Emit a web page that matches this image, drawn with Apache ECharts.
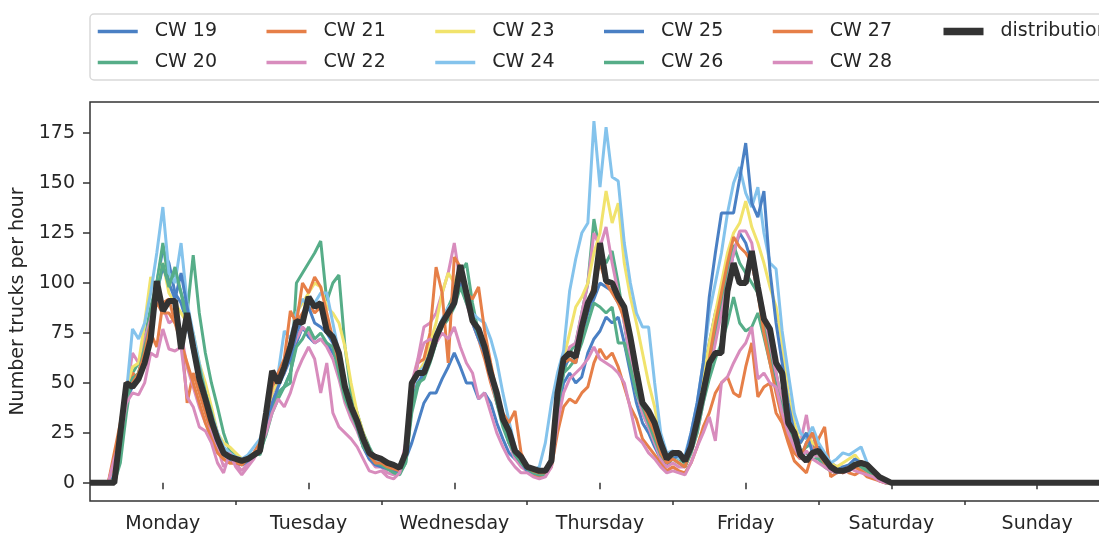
<!DOCTYPE html>
<html><head><meta charset="utf-8">
<script src="https://cdn.jsdelivr.net/npm/echarts@6/dist/echarts.min.js"></script>
<style>html,body{margin:0;padding:0;background:#fff}#c{width:1099px;height:536px}</style>
</head><body><div id="c"></div>
<script>
// ---- data (hourly, Monday 00:00 .. Sunday 23:00) ----
const dayNames = ['Monday','Tuesday','Wednesday','Thursday','Friday','Saturday','Sunday'];
const dayTickHours = [12,36,60,84,108,132,156];
const dayBoundaryHours = [24,48,72,96,120,144,168];
const yTickValues = [0,25,50,75,100,125,150,175];
const seriesNames = ['CW 19','CW 20','CW 21','CW 22','CW 23','CW 24','CW 25','CW 26','CW 27','CW 28'];

const cw19 = [
0,0,0,0,5,22,45,50,55,65,80,100,117,110,95,90,80,65,55,45,35,25,15,12,
11,10,12,15,20,30,42,45,48,55,70,78,73,70,72,70,65,60,45,35,28,18,12,10,
10,8,7,6,12,20,30,40,45,45,52,58,65,58,50,50,42,45,40,30,22,15,12,10,
7,6,5,5,10,35,50,55,50,53,65,72,76,83,80,83,70,55,40,30,25,18,12,8,
13,14,10,20,35,55,70,85,95,100,115,125,120,110,95,80,65,50,38,25,18,12,20,25,
15,12,10,8,6,7,8,10,6,4,2,0,0,0,0,0,0,0,0,0,0,0,0,0,
0,0,0,0,0,0,0,0,0,0,0,0,0,0,0,0,0,0,0,0,0,0,0,0];
const cw20 = [
0,0,0,0,0,10,35,55,60,72,88,100,120,100,105,95,85,114,85,65,50,38,25,16,
14,12,13,15,14,25,38,45,48,50,100,105,110,115,121,91,100,104,68,45,35,25,18,12,
10,8,6,5,10,35,48,55,62,70,80,88,95,105,110,90,75,65,55,42,30,20,15,12,
8,6,5,6,10,38,55,65,70,85,100,132,115,110,116,100,80,60,45,35,28,20,14,10,
14,12,10,18,28,45,60,75,90,105,119,110,105,100,95,80,65,55,40,28,20,15,18,20,
14,10,8,6,5,7,9,8,6,4,2,0,0,0,0,0,0,0,0,0,0,0,0,0,
0,0,0,0,0,0,0,0,0,0,0,0,0,0,0,0,0,0,0,0,0,0,0,0];
const cw21 = [
0,0,0,0,15,30,50,55,52,62,75,68,90,92,80,75,40,55,45,35,25,18,12,10,
10,9,11,14,18,30,45,50,55,70,80,85,90,85,88,80,72,60,45,35,28,20,14,10,
8,7,6,6,15,45,55,58,65,72,80,85,90,100,92,80,72,62,50,40,30,22,14,10,
6,4,3,4,8,25,38,42,40,45,48,60,67,62,65,58,48,38,32,22,18,14,10,6,
8,6,5,10,18,28,35,45,50,53,45,43,58,70,43,48,50,35,30,20,11,8,5,15,
22,28,3,5,8,5,4,6,3,2,1,0,0,0,0,0,0,0,0,0,0,0,0,0,
0,0,0,0,0,0,0,0,0,0,0,0,0,0,0,0,0,0,0,0,0,0,0,0];
const cw22 = [
0,0,0,0,10,25,45,65,60,72,82,92,88,80,82,75,58,48,38,30,25,18,8,12,
10,6,10,14,20,32,45,50,55,65,72,78,75,70,72,68,62,52,40,32,26,18,12,8,
8,5,4,6,20,50,62,78,80,85,95,105,120,100,90,80,72,65,52,40,30,20,12,8,
6,5,4,5,12,40,60,68,70,85,100,125,118,128,110,95,80,62,45,35,28,20,12,8,
10,8,8,15,25,40,55,70,85,100,115,126,126,120,100,85,70,55,40,30,25,20,34,15,
12,10,8,6,5,6,8,7,5,3,1,0,0,0,0,0,0,0,0,0,0,0,0,0,
0,0,0,0,0,0,0,0,0,0,0,0,0,0,0,0,0,0,0,0,0,0,0,0];
const cw23 = [
0,0,0,0,8,25,48,58,60,80,103,95,110,95,90,85,80,75,60,50,38,25,20,18,
15,12,13,15,18,30,45,52,60,70,85,90,95,100,98,88,85,80,68,50,35,25,16,12,
10,8,7,6,14,45,55,60,70,80,95,105,100,108,95,82,75,68,55,45,32,22,15,12,
8,6,5,6,12,42,62,75,88,93,100,115,125,146,130,140,110,93,80,65,50,38,22,12,
12,14,12,22,35,52,70,85,100,115,125,130,141,128,120,110,98,88,70,45,30,20,25,20,
18,12,10,8,10,12,14,10,6,4,2,0,0,0,0,0,0,0,0,0,0,0,0,0,
0,0,0,0,0,0,0,0,0,0,0,0,0,0,0,0,0,0,0,0,0,0,0,0];
const cw24 = [
0,0,0,0,5,20,45,77,72,80,95,115,138,105,100,120,90,75,60,45,35,25,18,15,
13,12,14,18,22,32,48,55,76,72,85,92,88,90,95,95,80,65,48,38,30,22,15,12,
10,8,7,6,14,42,55,58,65,75,82,88,90,98,92,85,82,80,72,61,45,31,18,12,
8,6,8,20,40,55,66,96,112,125,130,181,148,178,153,151,120,100,85,78,78,50,25,15,
16,12,14,25,40,60,85,100,115,135,150,158,145,138,148,125,110,107,76,55,35,25,22,28,
20,15,10,12,15,14,16,18,10,6,3,0,0,0,0,0,0,0,0,0,0,0,0,0,
0,0,0,0,0,0,0,0,0,0,0,0,0,0,0,0,0,0,0,0,0,0,0,0];
const cw25 = [
0,0,0,0,3,18,42,48,52,62,78,95,108,100,92,105,88,70,55,45,30,20,14,12,
10,9,11,14,18,28,40,48,55,62,75,82,88,80,78,75,70,58,45,38,28,18,12,9,
8,7,6,5,14,40,50,55,62,72,80,85,92,100,92,80,72,65,55,42,30,22,14,10,
6,5,4,5,12,40,58,62,60,72,85,92,100,98,96,90,85,70,52,40,32,25,15,10,
12,14,12,25,40,60,93,115,135,135,135,152,170,140,133,146,106,80,60,40,25,20,25,15,
18,12,8,6,8,9,12,10,8,5,3,1,0,0,0,0,0,0,0,0,0,0,0,0,
0,0,0,0,0,0,0,0,0,0,0,0,0,0,0,0,0,0,0,0,0,0,0,0];
const cw26 = [
0,0,0,0,2,15,40,52,55,68,80,95,110,98,108,95,80,70,58,45,35,22,15,14,
12,10,12,14,16,24,35,42,48,55,68,72,78,72,75,70,68,55,42,35,28,18,14,10,
9,7,5,4,10,38,50,52,60,70,78,82,88,98,90,82,74,66,54,40,28,20,14,10,
7,5,4,4,10,38,55,58,62,70,80,90,88,85,88,70,70,58,45,38,30,22,14,10,
12,10,8,15,25,40,52,62,70,80,93,80,76,78,85,73,60,48,38,28,20,15,15,12,
12,8,6,5,6,8,10,8,6,4,2,0,0,0,0,0,0,0,0,0,0,0,0,0,
0,0,0,0,0,0,0,0,0,0,0,0,0,0,0,0,0,0,0,0,0,0,0,0];
const cw27 = [
0,0,0,0,12,28,48,50,55,65,80,90,85,85,80,70,60,50,40,30,22,15,12,10,
10,9,12,15,20,32,48,55,62,86,80,100,95,103,98,85,72,60,48,38,30,22,14,10,
10,8,7,6,18,45,60,62,75,108,95,60,113,108,95,92,98,76,60,45,35,30,36,15,
8,6,5,5,12,42,60,62,60,75,88,100,110,100,95,90,82,70,52,40,32,25,15,10,
12,10,8,18,30,48,62,80,95,110,123,118,115,110,95,75,60,45,32,22,15,12,20,25,
15,10,8,6,5,7,8,6,4,3,1,0,0,0,0,0,0,0,0,0,0,0,0,0,
0,0,0,0,0,0,0,0,0,0,0,0,0,0,0,0,0,0,0,0,0,0,0,0];
const cw28 = [
0,0,0,0,12,22,40,45,44,50,65,63,77,67,66,68,43,38,28,26,20,10,5,15,
8,4,8,12,18,25,35,42,38,45,55,62,68,62,45,60,35,28,25,22,18,12,6,5,
6,3,2,5,18,45,60,70,72,70,75,72,78,68,60,55,42,45,35,25,18,12,8,5,
5,3,2,3,8,30,45,52,55,58,62,68,62,60,58,55,50,37,23,20,15,12,8,5,
6,5,4,10,18,25,33,21,50,53,60,66,70,78,52,55,50,48,35,25,18,12,16,12,
10,8,6,5,6,8,6,5,4,3,1,0,0,0,0,0,0,0,0,0,0,0,0,0,
0,0,0,0,0,0,0,0,0,0,0,0,0,0,0,0,0,0,0,0,0,0,0,0];
const distribution = [
0,0,0,0,0,25,50,48,52,60,72,101,86,91,91,67,85,68,52,42,31,22,15,13,
12,11,12,14,16,35,56,50,58,68,81,80,93,88,90,76,73,65,48,38,31,22,15,13,
12,10,9,7.5,15,50,55,55,63,73,80,85,90,109,95,81,77,68,55,45,32,26,16,13,
8,7,6,6,11,45,62,65,63,78,90,96,120,101,100,93,88,73,56,40,36,30,20,12,
15,15,11,18,31,45,60,65,65,96,110,100,100,116,98,82,77,60,55,30,25,14,11,15,
16,12,8,6,6,7,9,10,9,6,3,1.5,0,0,0,0,0,0,0,0,0,0,0,0,
0,0,0,0,0,0,0,0,0,0,0,0,0,0,0,0,0,0,0,0,0,0,0,0];

const weeklySeries = [cw19,cw20,cw21,cw22,cw23,cw24,cw25,cw26,cw27,cw28];
const lineColors = ['#4a80c4','#56ad88','#e67f48','#d88cbd','#f1e36c','#84c3ec','#4a80c4','#56ad88','#e67f48','#d88cbd'];
const legendOrder = ['CW 19','CW 21','CW 23','CW 25','CW 27','distribution','CW 20','CW 22','CW 24','CW 26','CW 28'];

// ---- chart ----
const FONT = 'DejaVu Sans';
const TXT = '#262626';
const AX = '#333333';
const chart = echarts.init(document.getElementById('c'), null, {renderer:'canvas'});

const series = weeklySeries.map((arr, i) => ({
  name: seriesNames[i], type: 'line', symbol: 'none', silent: true,
  data: arr.map((v, h) => [h, v]),
  lineStyle: {color: lineColors[i], width: 3},
  itemStyle: {color: lineColors[i]},
  z: 2
}));
series.push({
  name: 'distribution', type: 'line', symbol: 'none', silent: true,
  data: distribution.map((v, h) => [h, v]),
  lineStyle: {color: '#333333', width: 6},
  itemStyle: {color: '#333333'},
  z: 3
});

chart.setOption({
  animation: false,
  backgroundColor: '#ffffff',
  grid: {left: 90, right: -11, top: 102, bottom: 35, show: true, borderColor: AX, borderWidth: 1.5,
         backgroundColor: 'transparent', containLabel: false, outerBoundsMode: 'none'},
  legend: {
    left: 90, top: 14, width: 1050, orient: 'horizontal',
    padding: [7, 20, 7, 6], itemGap: 10, itemWidth: 40, itemHeight: 21,
    borderColor: '#d9d9d9', borderWidth: 1.5, borderRadius: 4, backgroundColor: '#ffffff',
    itemStyle: {opacity: 0, borderWidth: 0},
    textStyle: {fontFamily: FONT, fontSize: 19, color: TXT, width: 100, lineHeight: 21, padding: [0, 0, 0, 12], overflow: 'none'},
    data: legendOrder.map(n => ({name: n, itemStyle: {opacity: 0, borderWidth: 0},
                                 lineStyle: {width: n === 'distribution' ? 7.5 : 3.5}}))
  },
  xAxis: [{
    type: 'value', min: 0, max: 168,
    axisLine: {show: false}, splitLine: {show: false},
    axisTick: {show: true, customValues: dayTickHours, length: 6.5, lineStyle: {color: AX, width: 1.5}},
    axisLabel: {show: true, customValues: dayTickHours, formatter: v => dayNames[Math.round((v - 12) / 24)],
                fontFamily: FONT, fontSize: 19, color: TXT, margin: 14}
  }, {
    type: 'value', min: 0, max: 168, position: 'bottom',
    axisLine: {show: false}, splitLine: {show: false},
    axisTick: {show: true, customValues: dayBoundaryHours, length: 4, lineStyle: {color: AX, width: 1.5}},
    axisLabel: {show: false}
  }],
  yAxis: {
    type: 'value', min: -9.075, max: 190.575,
    axisLine: {show: false}, splitLine: {show: false},
    axisTick: {show: true, customValues: yTickValues, length: 7, lineStyle: {color: AX, width: 1.5}},
    axisLabel: {show: true, customValues: yTickValues, fontFamily: FONT, fontSize: 19, color: TXT, margin: 15},
    name: 'Number trucks per hour', nameLocation: 'middle', nameGap: 59,
    nameTextStyle: {fontFamily: FONT, fontSize: 19, color: TXT}
  },
  series: series
});
</script></body></html>
